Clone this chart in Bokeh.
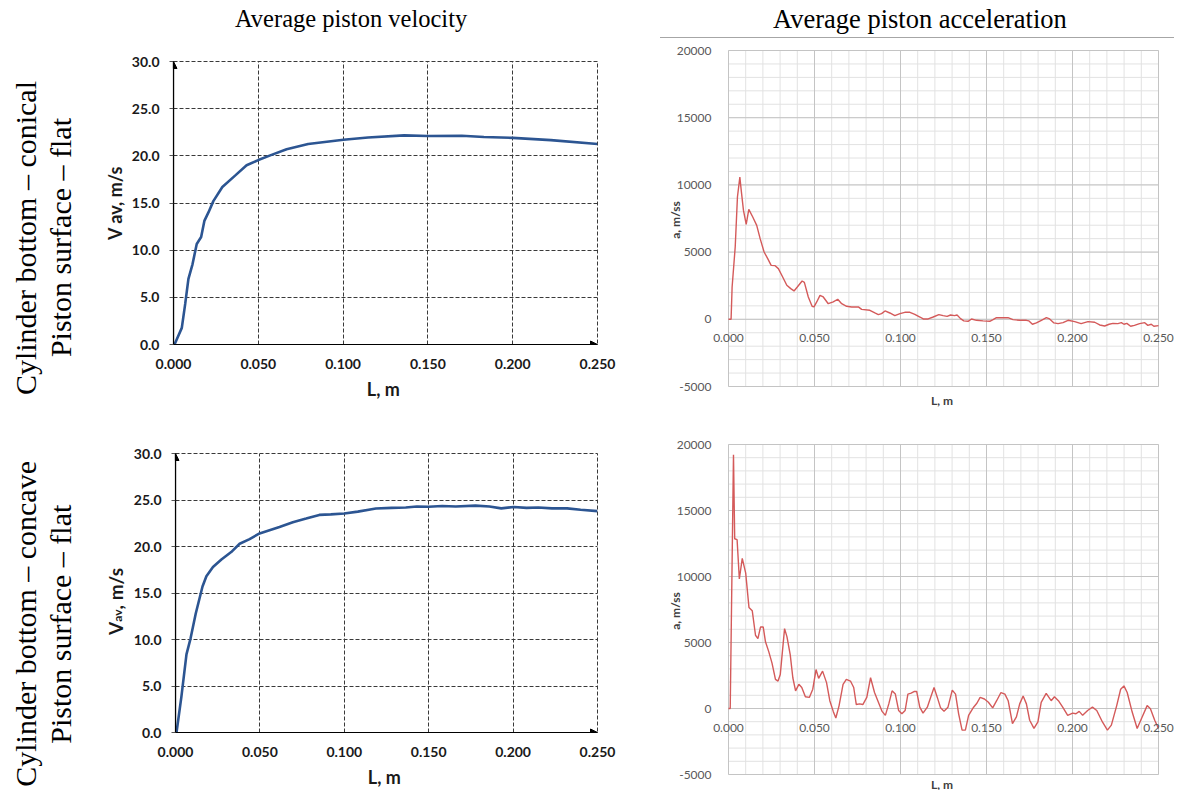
from bokeh.plotting import figure
from bokeh.models import (Range1d, FixedTicker, NumeralTickFormatter, Div, Spacer,
                          Arrow, NormalHead)
from bokeh.core.properties import value
from bokeh.layouts import row, column
from bokeh.embed import file_html
from bokeh.resources import INLINE
import math

# ---------------- data ----------------
TITLES = ["Average piston velocity", "Average piston acceleration"]
ROW_LABELS = [["Cylinder bottom \u2013 conical", "Piston surface \u2013 flat"],
              ["Cylinder bottom \u2013 concave", "Piston surface \u2013 flat"]]
L_TICKS = [0.0, 0.05, 0.10, 0.15, 0.20, 0.25]
L_MINOR = [0.0, 0.01, 0.02, 0.03, 0.04, 0.05, 0.06, 0.07, 0.08, 0.09, 0.10, 0.11, 0.12,
           0.13, 0.14, 0.15, 0.16, 0.17, 0.18, 0.19, 0.20, 0.21, 0.22, 0.23, 0.24, 0.25]
V_TICKS = [0.0, 5.0, 10.0, 15.0, 20.0, 25.0, 30.0]
A_TICKS = [-5000, 0, 5000, 10000, 15000, 20000]
A_MINOR = [-5000, -4000, -3000, -2000, -1000, 0, 1000, 2000, 3000, 4000, 5000, 6000, 7000,
           8000, 9000, 10000, 11000, 12000, 13000, 14000, 15000, 16000, 17000, 18000, 19000, 20000]

VEL1_L = [0.0, 0.0006, 0.0049, 0.0069, 0.0088, 0.0112, 0.0137, 0.0163, 0.0182, 0.0206, 0.0235,
          0.0288, 0.0363, 0.0431, 0.050, 0.0578, 0.0667, 0.0794, 0.1002, 0.1147, 0.136, 0.150,
          0.170, 0.183, 0.200, 0.2225, 0.250]
VEL1_V = [0.0, 0.0, 1.76, 4.3, 6.95, 8.5, 10.66, 11.4, 13.1, 14.0, 15.2, 16.7, 17.9, 19.0, 19.55,
          20.1, 20.7, 21.25, 21.7, 21.95, 22.17, 22.1, 22.13, 22.0, 21.9, 21.67, 21.25]

VEL2_L = [0.0, 0.0006, 0.0035, 0.0065, 0.0089, 0.012, 0.016, 0.0183, 0.0222, 0.0272, 0.033, 0.038,
          0.0439, 0.0498, 0.0616, 0.0695, 0.0774, 0.0852, 0.092, 0.100, 0.108, 0.1187, 0.128,
          0.1364, 0.143, 0.150, 0.158, 0.166, 0.1777, 0.186, 0.193, 0.2004, 0.208, 0.215, 0.223,
          0.232, 0.240, 0.250]
VEL2_V = [0.0, 0.0, 3.85, 8.4, 10.1, 12.8, 15.7, 16.8, 17.8, 18.6, 19.4, 20.3, 20.8, 21.4, 22.1,
          22.6, 23.0, 23.4, 23.45, 23.55, 23.75, 24.08, 24.15, 24.2, 24.3, 24.28, 24.35, 24.3, 24.4,
          24.3, 24.1, 24.25, 24.15, 24.2, 24.1, 24.1, 23.95, 23.8]

ACC1_L = [0.0, 0.0015, 0.0021, 0.0039, 0.0052, 0.0066, 0.0074, 0.0087, 0.0103, 0.0118, 0.0141,
          0.0164, 0.0184, 0.0207, 0.0228, 0.0248, 0.0271, 0.029, 0.0315, 0.0339, 0.0362, 0.0381,
          0.040, 0.0428, 0.0441, 0.0464, 0.0486, 0.0497, 0.0513, 0.0532, 0.0551, 0.058, 0.0609,
          0.0635, 0.0658, 0.0687, 0.0716, 0.0755, 0.0774, 0.0822, 0.0851, 0.0871, 0.089, 0.091,
          0.0938, 0.0967, 0.0997, 0.1025, 0.1055, 0.1083, 0.1113, 0.1132, 0.1161, 0.119, 0.1223,
          0.1248, 0.1271, 0.1291, 0.1314, 0.1329, 0.1349, 0.1368, 0.1393, 0.1413, 0.1442, 0.148,
          0.1519, 0.1538, 0.1558, 0.1587, 0.1625, 0.1654, 0.1693, 0.1732, 0.1747, 0.1767, 0.179,
          0.1819, 0.1848, 0.1867, 0.1892, 0.1916, 0.1945, 0.1974, 0.2013, 0.205, 0.209, 0.2129,
          0.2158, 0.2187, 0.2213, 0.2235, 0.2264, 0.2284, 0.2299, 0.2316, 0.2338, 0.236, 0.239,
          0.242, 0.2438, 0.2458, 0.2473, 0.250]
ACC1_A = [0, 0, 2400, 5380, 9100, 10580, 9590, 8100, 7060, 8180, 7610,
          6990, 6000, 5010, 4510, 4010, 3990, 3770, 3150, 2530, 2280, 2110,
          2400, 2850, 2750, 1660, 970, 920, 1290, 1780, 1660, 1160, 1290,
          1490, 1160, 970, 920, 920, 740, 670, 470, 350, 420, 620,
          470, 270, 420, 520, 520, 370, 170, 25, 25, 170, 350,
          270, 220, 320, 270, 320, 50, -120, -150, 25, -75, -120,
          -150, -25, 120, 120, 120, -25, -75, -75, -120, -370, -270,
          -75, 120, 25, -270, -320, -250, -75, -170, -320, -170, -220,
          -420, -500, -370, -300, -320, -250, -370, -300, -520, -450, -320,
          -250, -450, -370, -520, -470]

ACC2_L = [0.0, 0.001, 0.0029, 0.0036, 0.005, 0.0063, 0.008, 0.010, 0.0119, 0.0138, 0.0157,
          0.0171, 0.0186, 0.0202, 0.0215, 0.0234, 0.0253, 0.0273, 0.0288, 0.0301, 0.0326, 0.034,
          0.0359, 0.0374, 0.039, 0.0409, 0.0426, 0.0447, 0.047, 0.049, 0.0509, 0.0524, 0.0547,
          0.057, 0.0589, 0.0609, 0.0624, 0.0643, 0.0666, 0.0685, 0.0709, 0.0728, 0.0743, 0.0762,
          0.0781, 0.0804, 0.0826, 0.0849, 0.0868, 0.0893, 0.0912, 0.0932, 0.0951, 0.097, 0.0989,
          0.1008, 0.1027, 0.1043, 0.1062, 0.1081, 0.1094, 0.1112, 0.1131, 0.1156, 0.1175, 0.1195,
          0.1214, 0.1233, 0.1253, 0.1276, 0.1301, 0.132, 0.1338, 0.1358, 0.1377, 0.1396, 0.1425,
          0.1444, 0.1463, 0.1488, 0.1511, 0.1536, 0.1559, 0.1584, 0.1607, 0.1626, 0.1651, 0.1674,
          0.1693, 0.1713, 0.1732, 0.1751, 0.1776, 0.1799, 0.1818, 0.1847, 0.1863, 0.1876, 0.1895,
          0.1918, 0.1943, 0.1972, 0.2001, 0.202, 0.2039, 0.2059, 0.2088, 0.2116, 0.2141, 0.2174,
          0.2203, 0.2226, 0.2257, 0.228, 0.2299, 0.2318, 0.2347, 0.2376, 0.2405, 0.2434, 0.2453,
          0.2478, 0.250]
ACC2_A = [0, 0, 19230, 12860, 12790, 9810, 11370, 10260, 7660, 7410, 5550,
          5300, 6170, 6170, 5050, 4310, 3440, 2200, 2080, 2580, 6050, 5430,
          4060, 2330, 1340, 1830, 1590, 890, 840, 1460, 2950, 2280, 2830,
          1960, 590, -220, -720, 220, 1830, 2200, 2080, 1590, 300, 350,
          300, 840, 2330, 1210, 590, -220, -520, 350, 1340, 1090, -150,
          -400, -150, 1090, 1160, 1290, 1290, 100, -350, 100, 840, 1590,
          840, 50, -200, 100, 1390, 1090, -400, -1640, -1640, -520, 100,
          400, 840, 720, 470, 50, 590, 1210, 1090, 590, -1140, -640,
          350, 940, 350, -890, -1510, -1020, 470, 1140, 840, 590, 890,
          590, 100, -520, -350, -400, -220, -520, -150, 100, -150, -1020,
          -1640, -1260, 220, 1460, 1710, 1210, -270, -1510, -640, 220, -25,
          -890, -1510]

# ---------------- style / layout ----------------
BLUE = "#2c5592"
RED = "#d45a5a"
SANS = "Lato"
SERIF = "Liberation Serif"

LAB_W = 92
VEL_W, VEL_RIGHT = 552, 55
YLAB_W = 30
ACC_W = 522
ROW1_H, ROW2_H = 394, 357


def vel_fig(L, V, width, left, height, top, bottom, ylabel):
    p = figure(width=width, height=height, x_range=Range1d(0, 0.25), y_range=Range1d(0, 30),
               output_backend="svg", toolbar_location=None,
               min_border_left=left, min_border_right=VEL_RIGHT,
               min_border_top=top, min_border_bottom=bottom, margin=0)
    p.frame_align = False
    p.background_fill_color = "white"
    p.border_fill_color = "white"
    p.line(L, V, line_color=BLUE, line_width=2.6)
    p.xaxis.ticker = FixedTicker(ticks=L_TICKS)
    p.yaxis.ticker = FixedTicker(ticks=V_TICKS)
    p.xaxis.formatter = NumeralTickFormatter(format="0.000")
    p.yaxis.formatter = NumeralTickFormatter(format="0.0")
    p.axis.major_label_text_font = SANS
    p.axis.major_label_text_font_style = "bold"
    p.axis.major_label_text_font_size = "14px"
    p.axis.major_label_text_color = "#1a1a1a"
    p.axis.axis_line_color = "black"
    p.axis.axis_line_width = 1.2
    p.axis.minor_tick_line_color = None
    p.xaxis.major_tick_line_color = None
    p.xaxis.major_tick_out = 0
    p.yaxis.major_tick_out = 4
    p.yaxis.major_tick_in = 0
    p.yaxis.major_tick_line_color = "#555555"
    p.xaxis.major_label_standoff = 14
    p.yaxis.major_label_standoff = 10
    p.xaxis.axis_label = "L,  m"
    p.axis.axis_label_text_font = SANS
    p.axis.axis_label_text_font_style = "bold"
    p.axis.axis_label_text_font_size = "18px"
    p.axis.axis_label_text_color = "#1a1a1a"
    p.xaxis.axis_label_standoff = 6
    p.yaxis.axis_label_standoff = 3
    if ylabel:
        p.yaxis.axis_label = ylabel
    p.grid.grid_line_color = "#3a3a3a"
    p.grid.grid_line_dash = "4 2"
    p.grid.grid_line_width = 1
    p.outline_line_color = "#3a3a3a"
    p.outline_line_dash = "4 2"
    p.outline_line_width = 1
    head = dict(size=7, fill_color="black", line_color="black", line_width=1)
    p.add_layout(Arrow(end=NormalHead(**head), x_start=L_TICKS[0], y_start=V_TICKS[0],
                       x_end=L_TICKS[0], y_end=V_TICKS[-1],
                       line_color="black", line_width=1.2))
    p.add_layout(Arrow(end=NormalHead(**head), x_start=L_TICKS[0], y_start=V_TICKS[0],
                       x_end=L_TICKS[-1], y_end=V_TICKS[0],
                       line_color="black", line_width=1.2))
    return p


def acc_fig(L, A, height, fr_top, fr_bottom, y_top, y_bot, lab_gap):
    """fr_* : frame edges (px within figure); y_top / y_bot : px of 20000 / -5000."""
    fr_left, fr_right = 0, ACC_W       # frame edges
    x_zero, x_end = 76, 506            # px of L = 0 and L = 0.25
    lx0, lx1 = L_TICKS[0], L_TICKS[-1]
    xs = (lx1 - lx0) / (x_end - x_zero)
    ay0, ay1 = A_TICKS[0], A_TICKS[-1]
    ys = (ay1 - ay0) / (y_bot - y_top)
    xr = Range1d(lx0 - (x_zero - fr_left) * xs, lx1 + (fr_right - x_end) * xs)
    yr = Range1d(ay0 - (fr_bottom - y_bot) * ys, ay1 + (y_top - fr_top) * ys)
    p = figure(width=ACC_W, height=height, x_range=xr, y_range=yr,
               output_backend="svg", toolbar_location=None,
               min_border_left=fr_left, min_border_right=ACC_W - fr_right,
               min_border_top=fr_top, min_border_bottom=height - fr_bottom, margin=0)
    p.frame_align = False
    p.background_fill_color = "white"
    p.border_fill_color = "white"
    p.outline_line_color = None
    p.grid.visible = False
    # Excel-like grid limited to the data area
    p.multi_line(xs=[[t, t] for t in L_MINOR], ys=[[ay0, ay1] for t in L_MINOR],
                 line_color="#e2e2e2", line_width=1)
    p.multi_line(xs=[[lx0, lx1] for a in A_MINOR], ys=[[a, a] for a in A_MINOR],
                 line_color="#e2e2e2", line_width=1)
    p.multi_line(xs=[[t, t] for t in L_TICKS], ys=[[ay0, ay1] for t in L_TICKS],
                 line_color="#c4c4c4", line_width=1)
    p.multi_line(xs=[[lx0, lx1] for a in A_TICKS], ys=[[a, a] for a in A_TICKS],
                 line_color="#c4c4c4", line_width=1)
    p.line(L, A, line_color=RED, line_width=1.4)
    p.xaxis.fixed_location = 0
    p.yaxis.fixed_location = 0
    p.xaxis.ticker = FixedTicker(ticks=L_TICKS)
    p.yaxis.ticker = FixedTicker(ticks=A_TICKS)
    p.xaxis.formatter = NumeralTickFormatter(format="0.000")
    p.yaxis.formatter = NumeralTickFormatter(format="0")
    p.axis.axis_line_color = None
    p.axis.major_tick_line_color = None
    p.axis.minor_tick_line_color = None
    p.axis.major_label_text_font = SANS
    p.axis.major_label_text_font_size = "12px"
    p.axis.major_label_text_color = "#595959"
    p.xaxis.major_label_standoff = 9
    p.yaxis.major_label_standoff = 11
    p.text(x=[lx0], y=[(ay0 + ay1) / 2], text=["a,  m/ss"], x_offset=-53,
           angle=math.pi / 2, text_align="center", text_baseline="middle",
           text_font=value(SANS), text_font_style="bold", text_font_size="12px",
           text_color="#404040")
    p.text(x=[(lx0 + lx1) / 2], y=[ay0], text=["L,  m"], y_offset=lab_gap,
           text_align="center", text_baseline="top", text_font=value(SANS),
           text_font_style="bold", text_font_size="12px", text_color="#404040")
    return p


def row_label(lines, h, dy):
    html = ('<div style="width:%dpx;height:%dpx;display:flex;align-items:center;'
            'justify-content:flex-start;">'
            '<div style="position:relative;top:%dpx;writing-mode:vertical-rl;'
            'transform:rotate(180deg);font-family:\'%s\';font-size:30px;line-height:35px;'
            'text-align:center;white-space:nowrap;color:#000;">%s</div></div>'
            % (LAB_W, h, dy, SERIF, "<br>".join(lines)))
    return Div(text=html, width=LAB_W, height=h, margin=0)


def ylab_div(h, dy):
    html = ('<div style="width:%dpx;height:%dpx;display:flex;align-items:center;'
            'justify-content:flex-end;">'
            '<div style="position:relative;top:%dpx;left:-2px;writing-mode:vertical-rl;'
            'transform:rotate(180deg);font-family:\'%s\';font-weight:bold;font-size:19px;'
            'line-height:20px;white-space:nowrap;color:#1a1a1a;">'
            'V<span style="font-size:12px;vertical-align:-2px;">av</span>, m/s</div></div>'
            % (YLAB_W, h, dy, SANS))
    return Div(text=html, width=YLAB_W, height=h, margin=0)


def title_div(text, w, pad, size, border):
    bd = "border-bottom:1px solid #a6a6a6;" if border else ""
    html = ('<div style="width:%dpx;height:30px;%s padding-left:%dpx;box-sizing:border-box;'
            'font-family:\'%s\';font-size:%spx;line-height:22px;white-space:nowrap;color:#000;">'
            '%s</div>' % (w, bd, pad, SERIF, size, text))
    return Div(text=html, width=w, height=30, margin=0)


# ---------------- figures ----------------
vel1 = vel_fig(VEL1_L, VEL1_V, VEL_W, 72, ROW1_H, 23, 88, "V av, m/s")
acc1 = acc_fig(ACC1_L, ACC1_A, ROW1_H, fr_top=1, fr_bottom=ROW1_H - 24,
               y_top=12, y_bot=348, lab_gap=6)

vel2 = vel_fig(VEL2_L, VEL2_V, VEL_W - YLAB_W, 72 - YLAB_W, ROW2_H, 20, 54, None)
acc2 = acc_fig(ACC2_L, ACC2_A, ROW2_H, fr_top=1, fr_bottom=ROW2_H,
               y_top=11, y_bot=341, lab_gap=2)

header = row(title_div(TITLES[0], VEL_W + LAB_W + 8, 227, 24.5, False),
             title_div(TITLES[1], ACC_W - 8, 113, 26.5, True), margin=0)
row1 = row(row_label(ROW_LABELS[0], ROW1_H, 3), vel1, acc1, margin=0)
sep = row(Spacer(width=VEL_W + LAB_W + 8, height=1, margin=0),
          Div(text='<div style="width:514px;height:1px;background:#a6a6a6;"></div>',
              width=ACC_W - 8, height=1, margin=0), margin=0)
row2 = row(row_label(ROW_LABELS[1], ROW2_H, 12), ylab_div(ROW2_H, -10), vel2, acc2, margin=0)

layout = column(header, row1, sep, row2, margin=(8, 0, 0, 8))

with open("out.html", "w", encoding="utf-8") as f:
    f.write(file_html(layout, INLINE, title="Piston velocity and acceleration"))
